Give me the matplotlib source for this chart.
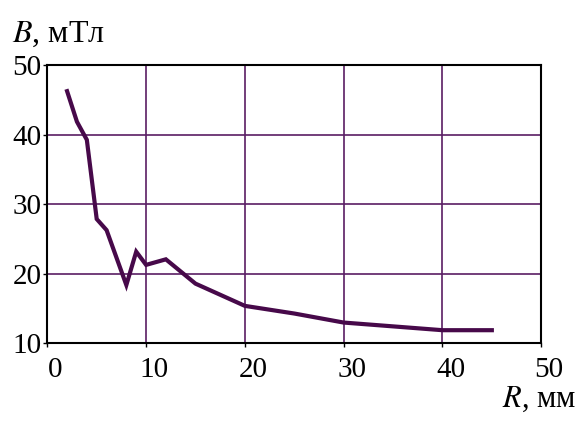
import numpy as np
import matplotlib
matplotlib.use("Agg")
import matplotlib.pyplot as plt
from matplotlib.transforms import ScaledTranslation

matplotlib.rcParams['font.family'] = 'Liberation Serif'
matplotlib.rcParams['mathtext.fontset'] = 'stix'

R = [2, 3, 4, 5, 6, 8, 9, 10, 12, 15, 20, 25, 30, 40, 45]
B = [46.3, 41.9, 39.3, 27.9, 26.3, 18.4, 23.2, 21.3, 22.1, 18.6, 15.4, 14.3, 13.0, 11.9, 11.9]

xticks = [0, 10, 20, 30, 40, 50]
yticks = [10, 20, 30, 40, 50]

text_size = 21
line_col = '#47094a'
grid_col = '#5a1e64'

fig = plt.figure(figsize=(5.77, 4.25), dpi=100)
ax = fig.add_axes([0.082, 0.192, 0.856, 0.654])

ax.plot(R, B, color=line_col, lw=3, solid_joinstyle='miter')

ax.set_xlim(0, 50)
ax.set_ylim(10, 50)
ax.set_xticks(xticks)
ax.set_yticks(yticks)
ax.grid(True, color=grid_col, lw=1.2)
for s in ax.spines.values():
    s.set_linewidth(1.5)
    s.set_color('black')

ax.tick_params(axis='both', labelsize=text_size, length=3, width=1, color='black')
ax.tick_params(axis='x', pad=7)
ax.tick_params(axis='y', pad=1)

# x labels sit a little to the right of their ticks
off = ScaledTranslation(8 / 100, 0, fig.dpi_scale_trans)
for lab in ax.get_xticklabels():
    lab.set_transform(lab.get_transform() + off)

fig.text(0.02, 0.902, r"$B$, мТл", fontsize=23)
fig.text(0.998, 0.042, r"$R$, мм", fontsize=22, ha='right')

plt.savefig("out.png", dpi=100)
